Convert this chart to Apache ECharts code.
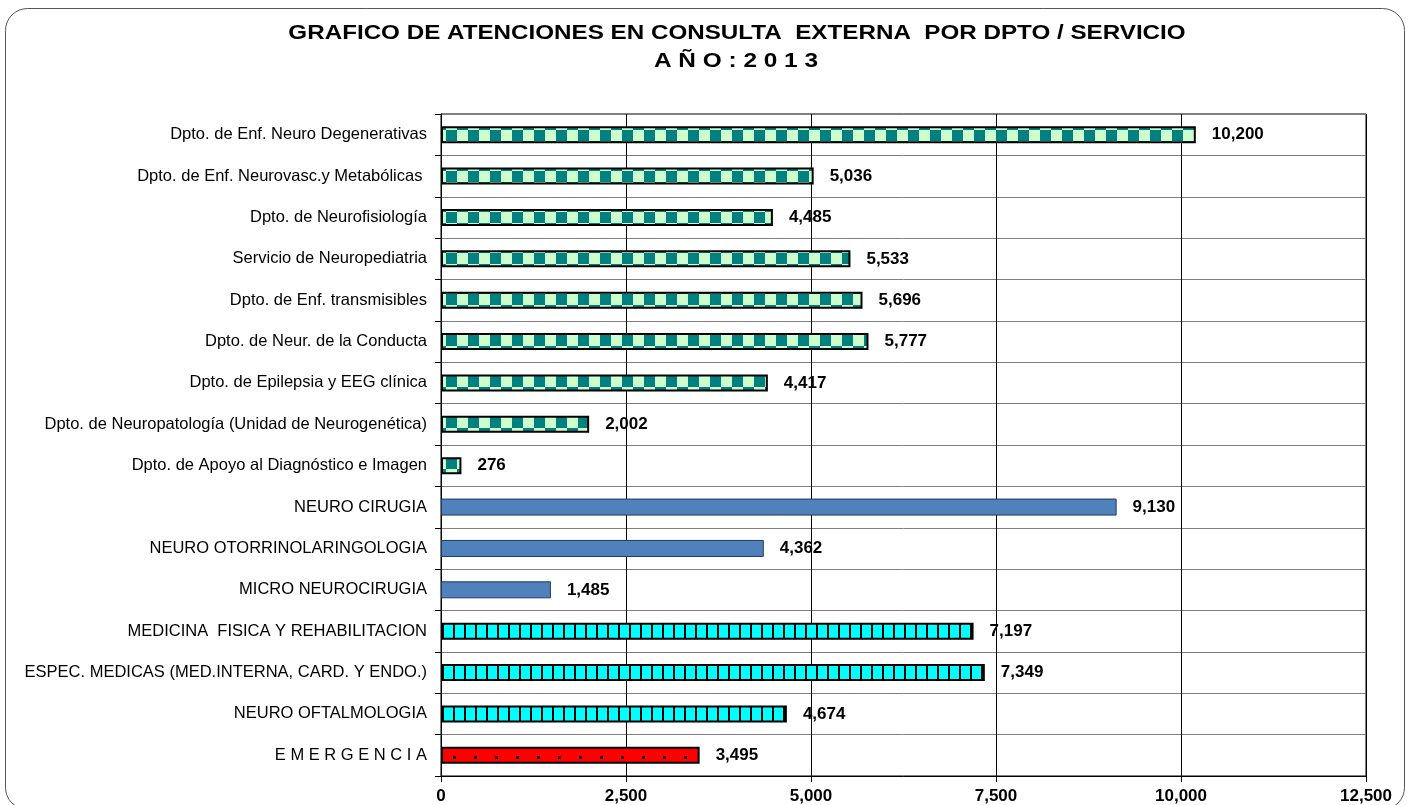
<!DOCTYPE html>
<html>
<head>
<meta charset="utf-8">
<script src="https://cdn.jsdelivr.net/npm/echarts@6/dist/echarts.min.js"></script>
<style>html,body{margin:0;padding:0;background:#fff;}#c{width:1410px;height:805px;}</style>
</head>
<body>
<div id="c"></div>
<script>
var titleLine1 = 'GRAFICO DE ATENCIONES EN CONSULTA  EXTERNA  POR DPTO / SERVICIO';
var titleLine2 = 'A Ñ O : 2 0 1 3';
var categories = [
  'Dpto. de Enf. Neuro Degenerativas',
  'Dpto. de Enf. Neurovasc.y Metabólicas ',
  'Dpto. de Neurofisiología',
  'Servicio de Neuropediatria',
  'Dpto. de Enf. transmisibles',
  'Dpto. de Neur. de la Conducta',
  'Dpto. de Epilepsia y EEG clínica',
  'Dpto. de Neuropatología (Unidad de Neurogenética)',
  'Dpto. de Apoyo al Diagnóstico e Imagen',
  'NEURO CIRUGIA',
  'NEURO OTORRINOLARINGOLOGIA',
  'MICRO NEUROCIRUGIA',
  'MEDICINA  FISICA Y REHABILITACION',
  'ESPEC. MEDICAS (MED.INTERNA, CARD. Y ENDO.)',
  'NEURO OFTALMOLOGIA',
  'E M E R G E N C I A'
];
var values = [10200, 5036, 4485, 5533, 5696, 5777, 4417, 2002, 276, 9130, 4362, 1485, 7197, 7349, 4674, 3495];
var groups = ['check','check','check','check','check','check','check','check','check','blue','blue','blue','stripe','stripe','stripe','dots'];
var xTicks = [0, 2500, 5000, 7500, 10000, 12500];

function makeCanvas(w, h, draw) {
  var c = document.createElement('canvas');
  c.width = w; c.height = h;
  draw(c.getContext('2d'));
  return c;
}
// checker tile: one full row of squares per category band (band ~41px)
var checkCanvas = makeCanvas(22, 41, function (g) {
  g.fillStyle = '#CCFFCC'; g.fillRect(0, 0, 22, 41);
  g.fillStyle = '#008080';
  g.fillRect(6, 7, 11, 11);
  g.fillRect(0, 0, 6, 7); g.fillRect(17, 0, 5, 7);
  g.fillRect(0, 18, 6, 23); g.fillRect(17, 18, 5, 23);
});
var stripeCanvas = makeCanvas(11, 10, function (g) {
  g.fillStyle = '#00FFFF'; g.fillRect(0, 0, 11, 10);
  g.fillStyle = '#000000'; g.fillRect(2, 0, 2, 10);
});
var dotCanvas = makeCanvas(21, 41, function (g) {
  g.fillStyle = '#FF0000'; g.fillRect(0, 0, 21, 41);
  g.fillStyle = '#200000'; g.fillRect(12, 18, 3, 3);
});
var styles = {
  check: { color: { image: checkCanvas, repeat: 'repeat' }, borderColor: '#000', borderWidth: 2 },
  blue: { color: '#4F81BD', borderColor: '#1F3A5F', borderWidth: 1 },
  stripe: { color: { image: stripeCanvas, repeat: 'repeat' }, borderColor: '#000', borderWidth: 2 },
  dots: { color: { image: dotCanvas, repeat: 'repeat' }, borderColor: '#000', borderWidth: 2 }
};
var seriesData = values.map(function (v, i) {
  return { value: v, itemStyle: styles[groups[i]] };
});

var font = 'Liberation Sans, Arial, sans-serif';
var chart = echarts.init(document.getElementById('c'));
chart.setOption({
  animation: false,
  backgroundColor: '#fff',
  graphic: [{
    type: 'rect', shape: { x: 5.5, y: 8.5, width: 1399, height: 801, r: 22 },
    style: { fill: 'none', stroke: '#555', lineWidth: 1 }, z: -1
  }, {
    type: 'text', x: 737, y: 33, scaleX: 1.21,
    style: { text: titleLine1, x: 0, y: 0, textAlign: 'center', textVerticalAlign: 'middle',
      font: 'bold 20px ' + font, fill: '#000' }
  }, {
    type: 'text', x: 736, y: 61, scaleX: 1.22,
    style: { text: titleLine2, x: 0, y: 0, textAlign: 'center', textVerticalAlign: 'middle',
      font: 'bold 20px ' + font, fill: '#000' }
  }],
  grid: { left: 441, right: 44, top: 114, bottom: 29, show: true, borderColor: '#000', borderWidth: 1 },
  xAxis: {
    type: 'value', min: 0, max: 12500, interval: 2500,
    axisLine: { show: true, lineStyle: { color: '#000' } },
    axisTick: { show: true, length: 6, lineStyle: { color: '#000' } },
    splitLine: { show: true, lineStyle: { color: '#000', width: 1 } },
    axisLabel: {
      fontFamily: font, fontWeight: 'bold', fontSize: 17, color: '#000', margin: 12,
      formatter: function (v) { return xTicks.indexOf(v) >= 0 ? v.toLocaleString('en-US') : ''; }
    }
  },
  yAxis: {
    type: 'category', data: categories, inverse: true,
    axisLine: { show: true, lineStyle: { color: '#000', width: 1 } },
    axisTick: { show: true, length: 6, lineStyle: { color: '#000' } },
    splitLine: { show: true, lineStyle: { color: '#808080', width: 1 } },
    axisLabel: { fontFamily: font, fontSize: 16.5, color: '#000', margin: 14 }
  },
  series: [{
    type: 'bar', data: seriesData, barWidth: 17,
    label: {
      show: true, position: 'right', distance: 16,
      fontFamily: font, fontWeight: 'bold', fontSize: 17, color: '#000',
      formatter: function (p) { return p.value.toLocaleString('en-US'); }
    }
  }]
});
</script>
</body>
</html>
